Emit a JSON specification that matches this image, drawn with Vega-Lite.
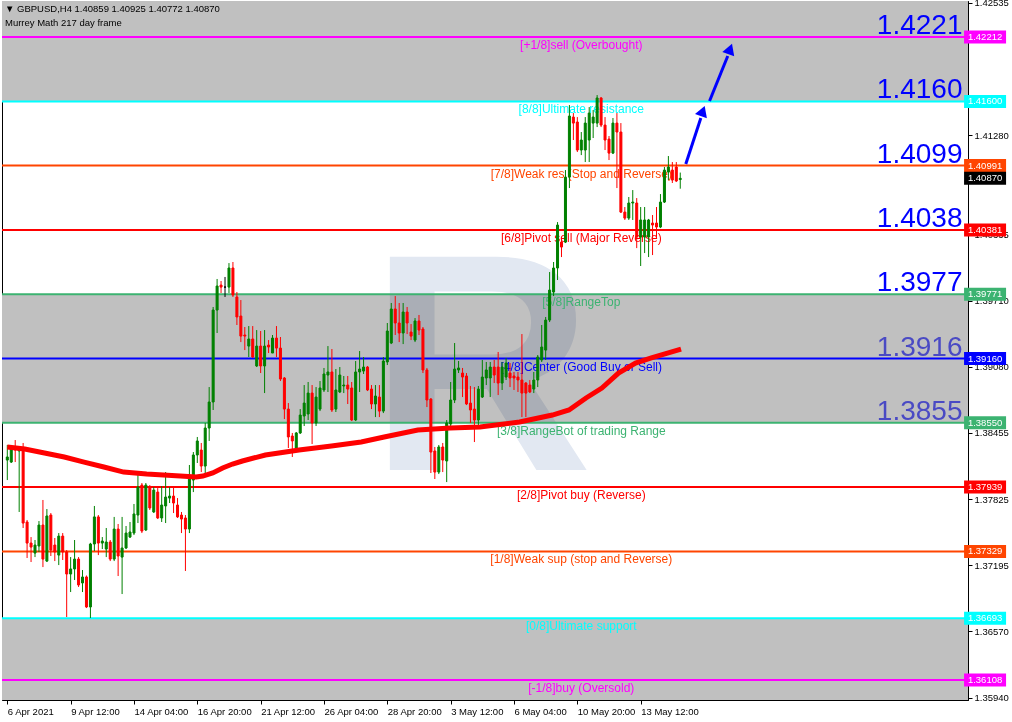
{
"$schema": "https://vega.github.io/schema/vega-lite/v6.json",
"width": 966, "height": 699,
"autosize": {"type": "none"},
"padding": {"left": 2, "top": 1, "right": 44, "bottom": 22},
"background": "white",
"config": {"view": {"stroke": "black", "strokeWidth": 1}},
"title": {"text": "\u25bc GBPUSD,H4  1.40859 1.40925 1.40772 1.40870", "subtitle": "Murrey Math 217 day frame", "anchor": "start", "frame": "group", "orient": "top", "offset": -30, "dx": 3, "font": "Liberation Sans", "fontSize": 9.5, "fontWeight": "normal", "color": "black", "subtitleFont": "Liberation Sans", "subtitleFontSize": 9.5, "subtitleColor": "black", "subtitlePadding": 5},
"datasets": {
"bands": [{"lo": 1.416, "hi": 1.427}, {"lo": 1.3855, "hi": 1.39771}, {"lo": 1.355, "hi": 1.36693}],
"levels": [
{"lv": "+1/8", "p": 1.42212, "txt": "[+1/8]sell (Overbought)"},
{"lv": "8/8", "p": 1.416, "txt": "[8/8]Ultimate resistance"},
{"lv": "7/8", "p": 1.40991, "txt": "[7/8]Weak res (Stop and Reverse)"},
{"lv": "6/8", "p": 1.40381, "txt": "[6/8]Pivot sell (Major Reverse)"},
{"lv": "5/8", "p": 1.39771, "txt": "[5/8]RangeTop"},
{"lv": "4/8", "p": 1.3916, "txt": "[4/8]Center (Good Buy or Sell)"},
{"lv": "3/8", "p": 1.3855, "txt": "[3/8]RangeBot of trading Range"},
{"lv": "2/8", "p": 1.37939, "txt": "[2/8]Pivot buy (Reverse)"},
{"lv": "1/8", "p": 1.37329, "txt": "[1/8]Weak sup (stop and Reverse)"},
{"lv": "0/8", "p": 1.36693, "txt": "[0/8]Ultimate support"},
{"lv": "-1/8", "p": 1.36108, "txt": "[-1/8]buy (Oversold)"}
],
"tags": [
{"lv": "+1/8", "p": 1.42212}, {"lv": "8/8", "p": 1.416}, {"lv": "7/8", "p": 1.40991}, {"lv": "bid", "p": 1.4087},
{"lv": "6/8", "p": 1.40381}, {"lv": "5/8", "p": 1.39771}, {"lv": "4/8", "p": 1.3916}, {"lv": "3/8", "p": 1.3855},
{"lv": "2/8", "p": 1.37939}, {"lv": "1/8", "p": 1.37329}, {"lv": "0/8", "p": 1.36693}, {"lv": "-1/8", "p": 1.36108}
],
"ma": [
{"k": 0, "m": 1.3832}, {"k": 4.4, "m": 1.38301}, {"k": 9.4, "m": 1.38263}, {"k": 14.4, "m": 1.38225}, {"k": 19.4, "m": 1.38177},
{"k": 24.4, "m": 1.3813}, {"k": 29.4, "m": 1.38082}, {"k": 35.2, "m": 1.38063}, {"k": 43.7, "m": 1.38044}, {"k": 47.7, "m": 1.38035},
{"k": 49.4, "m": 1.38044}, {"k": 51.9, "m": 1.38073}, {"k": 54.4, "m": 1.3812}, {"k": 56.9, "m": 1.38158}, {"k": 59.4, "m": 1.38187},
{"k": 65.2, "m": 1.38244}, {"k": 73.7, "m": 1.38291}, {"k": 81.9, "m": 1.38329}, {"k": 89.4, "m": 1.38367}, {"k": 95.2, "m": 1.38415},
{"k": 103.7, "m": 1.38481}, {"k": 111.9, "m": 1.385}, {"k": 119.4, "m": 1.3851}, {"k": 129.4, "m": 1.38557}, {"k": 137.7, "m": 1.38623},
{"k": 141.9, "m": 1.38671}, {"k": 146.2, "m": 1.38785}, {"k": 150.2, "m": 1.3888}, {"k": 154.4, "m": 1.39022}, {"k": 158.7, "m": 1.39117},
{"k": 162.7, "m": 1.39165}, {"k": 170.2, "m": 1.3925}
],
"arrows": [
{"a": 1, "k": 171.4, "p": 1.41006}, {"a": 1, "k": 175.2, "p": 1.41443},
{"a": 2, "k": 177.4, "p": 1.41604}, {"a": 2, "k": 182.0, "p": 1.42032}
],
"heads": [{"k": 175.7, "p": 1.41509}, {"k": 182.6, "p": 1.42098}],
"candles": [
{"k":0,"o":1.38196,"h":1.38339,"l":1.38006,"c":1.38225},
{"k":1,"o":1.38177,"h":1.38339,"l":1.38168,"c":1.38310},
{"k":2,"o":1.38320,"h":1.38386,"l":1.38177,"c":1.38291},
{"k":3,"o":1.38282,"h":1.38320,"l":1.37703,"c":1.38310},
{"k":4,"o":1.38310,"h":1.38358,"l":1.37551,"c":1.37598},
{"k":5,"o":1.37608,"h":1.37627,"l":1.37266,"c":1.37408},
{"k":6,"o":1.37408,"h":1.37465,"l":1.37228,"c":1.37370},
{"k":7,"o":1.37313,"h":1.37437,"l":1.37275,"c":1.37389},
{"k":8,"o":1.37380,"h":1.37617,"l":1.37323,"c":1.37579},
{"k":9,"o":1.37579,"h":1.37817,"l":1.37180,"c":1.37256},
{"k":10,"o":1.37237,"h":1.37731,"l":1.37228,"c":1.37665},
{"k":11,"o":1.37674,"h":1.37693,"l":1.37285,"c":1.37342},
{"k":12,"o":1.37389,"h":1.37456,"l":1.37237,"c":1.37323},
{"k":13,"o":1.37294,"h":1.37503,"l":1.37199,"c":1.37474},
{"k":14,"o":1.37474,"h":1.37503,"l":1.37247,"c":1.37323},
{"k":15,"o":1.37323,"h":1.37342,"l":1.36706,"c":1.37114},
{"k":16,"o":1.37114,"h":1.37275,"l":1.36943,"c":1.37162},
{"k":17,"o":1.37162,"h":1.37437,"l":1.37057,"c":1.37256},
{"k":18,"o":1.37256,"h":1.37275,"l":1.36991,"c":1.37010},
{"k":19,"o":1.37029,"h":1.37152,"l":1.36943,"c":1.37086},
{"k":20,"o":1.37086,"h":1.37100,"l":1.36791,"c":1.36801},
{"k":21,"o":1.36801,"h":1.37410,"l":1.36696,"c":1.37399},
{"k":22,"o":1.37399,"h":1.37760,"l":1.37332,"c":1.37656},
{"k":23,"o":1.37656,"h":1.37674,"l":1.37294,"c":1.37408},
{"k":24,"o":1.37408,"h":1.37465,"l":1.37351,"c":1.37427},
{"k":25,"o":1.37351,"h":1.37551,"l":1.37275,"c":1.37418},
{"k":26,"o":1.37418,"h":1.37437,"l":1.37237,"c":1.37256},
{"k":27,"o":1.37256,"h":1.37656,"l":1.37237,"c":1.37541},
{"k":28,"o":1.37541,"h":1.37589,"l":1.37095,"c":1.37285},
{"k":29,"o":1.37275,"h":1.37656,"l":1.36924,"c":1.37361},
{"k":30,"o":1.37361,"h":1.37570,"l":1.37351,"c":1.37503},
{"k":31,"o":1.37465,"h":1.37608,"l":1.37456,"c":1.37513},
{"k":32,"o":1.37503,"h":1.37779,"l":1.37484,"c":1.37684},
{"k":33,"o":1.37674,"h":1.38054,"l":1.37598,"c":1.37940},
{"k":34,"o":1.37959,"h":1.37978,"l":1.37503,"c":1.37522},
{"k":35,"o":1.37532,"h":1.37978,"l":1.37522,"c":1.37959},
{"k":36,"o":1.37940,"h":1.37959,"l":1.37722,"c":1.37741},
{"k":37,"o":1.37703,"h":1.37940,"l":1.37693,"c":1.37911},
{"k":38,"o":1.37892,"h":1.37930,"l":1.37636,"c":1.37646},
{"k":39,"o":1.37646,"h":1.37949,"l":1.37608,"c":1.37769},
{"k":40,"o":1.37760,"h":1.38082,"l":1.37598,"c":1.37845},
{"k":41,"o":1.37835,"h":1.37940,"l":1.37788,"c":1.37854},
{"k":42,"o":1.37854,"h":1.37940,"l":1.37693,"c":1.37788},
{"k":43,"o":1.37769,"h":1.37835,"l":1.37646,"c":1.37656},
{"k":44,"o":1.37674,"h":1.37703,"l":1.37503,"c":1.37636},
{"k":45,"o":1.37646,"h":1.37674,"l":1.37143,"c":1.37541},
{"k":46,"o":1.37541,"h":1.38149,"l":1.37503,"c":1.38016},
{"k":47,"o":1.38006,"h":1.38272,"l":1.37892,"c":1.38244},
{"k":48,"o":1.38244,"h":1.38415,"l":1.38168,"c":1.38377},
{"k":49,"o":1.38291,"h":1.38358,"l":1.38082,"c":1.38139},
{"k":50,"o":1.38139,"h":1.38548,"l":1.38073,"c":1.38500},
{"k":51,"o":1.38500,"h":1.38889,"l":1.38377,"c":1.38747},
{"k":52,"o":1.38747,"h":1.39649,"l":1.38671,"c":1.39620},
{"k":53,"o":1.39620,"h":1.39915,"l":1.39402,"c":1.39848},
{"k":54,"o":1.39857,"h":1.39896,"l":1.39782,"c":1.39838},
{"k":55,"o":1.39838,"h":1.39934,"l":1.39744,"c":1.39838},
{"k":56,"o":1.39838,"h":1.40066,"l":1.39782,"c":1.40019},
{"k":57,"o":1.40019,"h":1.40076,"l":1.39744,"c":1.39763},
{"k":58,"o":1.39744,"h":1.39791,"l":1.39478,"c":1.39554},
{"k":59,"o":1.39563,"h":1.39715,"l":1.39316,"c":1.39373},
{"k":60,"o":1.39383,"h":1.39459,"l":1.39240,"c":1.39373},
{"k":61,"o":1.39278,"h":1.39468,"l":1.39174,"c":1.39345},
{"k":62,"o":1.39345,"h":1.39468,"l":1.39165,"c":1.39174},
{"k":63,"o":1.39089,"h":1.39430,"l":1.39079,"c":1.39278},
{"k":64,"o":1.39278,"h":1.39421,"l":1.39022,"c":1.39089},
{"k":65,"o":1.39089,"h":1.39430,"l":1.38832,"c":1.39278},
{"k":66,"o":1.39288,"h":1.39335,"l":1.39212,"c":1.39269},
{"k":67,"o":1.39212,"h":1.39383,"l":1.39212,"c":1.39354},
{"k":68,"o":1.39354,"h":1.39468,"l":1.39174,"c":1.39259},
{"k":69,"o":1.39259,"h":1.39364,"l":1.38946,"c":1.38965},
{"k":70,"o":1.38975,"h":1.38984,"l":1.38585,"c":1.38680},
{"k":71,"o":1.38680,"h":1.38737,"l":1.38310,"c":1.38415},
{"k":72,"o":1.38424,"h":1.38453,"l":1.38225,"c":1.38377},
{"k":73,"o":1.38310,"h":1.38462,"l":1.38291,"c":1.38453},
{"k":74,"o":1.38453,"h":1.38680,"l":1.38443,"c":1.38623},
{"k":75,"o":1.38614,"h":1.38908,"l":1.38519,"c":1.38737},
{"k":76,"o":1.38633,"h":1.38937,"l":1.38576,"c":1.38832},
{"k":77,"o":1.38832,"h":1.38908,"l":1.38348,"c":1.38548},
{"k":78,"o":1.38548,"h":1.38889,"l":1.38519,"c":1.38794},
{"k":79,"o":1.38680,"h":1.38946,"l":1.38661,"c":1.38880},
{"k":80,"o":1.38861,"h":1.39070,"l":1.38842,"c":1.39013},
{"k":81,"o":1.39003,"h":1.39278,"l":1.38842,"c":1.39032},
{"k":82,"o":1.39032,"h":1.39250,"l":1.38652,"c":1.38671},
{"k":83,"o":1.38680,"h":1.39060,"l":1.38652,"c":1.38861},
{"k":84,"o":1.38842,"h":1.39079,"l":1.38832,"c":1.39003},
{"k":85,"o":1.38899,"h":1.38994,"l":1.38832,"c":1.38908},
{"k":86,"o":1.38908,"h":1.38994,"l":1.38728,"c":1.38870},
{"k":87,"o":1.38880,"h":1.38937,"l":1.38566,"c":1.38576},
{"k":88,"o":1.38576,"h":1.39136,"l":1.38566,"c":1.39032},
{"k":89,"o":1.39032,"h":1.39231,"l":1.38842,"c":1.39060},
{"k":90,"o":1.39041,"h":1.39174,"l":1.39013,"c":1.39079},
{"k":91,"o":1.39079,"h":1.39089,"l":1.38851,"c":1.38861},
{"k":92,"o":1.38870,"h":1.38908,"l":1.38680,"c":1.38728},
{"k":93,"o":1.38728,"h":1.38908,"l":1.38604,"c":1.38804},
{"k":94,"o":1.38794,"h":1.38908,"l":1.38604,"c":1.38661},
{"k":95,"o":1.38661,"h":1.39174,"l":1.38642,"c":1.39136},
{"k":96,"o":1.39127,"h":1.39497,"l":1.39098,"c":1.39421},
{"k":97,"o":1.39307,"h":1.39687,"l":1.39297,"c":1.39630},
{"k":98,"o":1.39630,"h":1.39753,"l":1.39383,"c":1.39497},
{"k":99,"o":1.39497,"h":1.39687,"l":1.39316,"c":1.39402},
{"k":100,"o":1.39402,"h":1.39687,"l":1.39297,"c":1.39601},
{"k":101,"o":1.39601,"h":1.39649,"l":1.39392,"c":1.39497},
{"k":102,"o":1.39411,"h":1.39487,"l":1.39335,"c":1.39373},
{"k":103,"o":1.39335,"h":1.39544,"l":1.39316,"c":1.39516},
{"k":104,"o":1.39516,"h":1.39573,"l":1.39383,"c":1.39430},
{"k":105,"o":1.39440,"h":1.39459,"l":1.39022,"c":1.39051},
{"k":106,"o":1.39051,"h":1.39070,"l":1.38699,"c":1.38766},
{"k":107,"o":1.38775,"h":1.38785,"l":1.38073,"c":1.38272},
{"k":108,"o":1.38282,"h":1.38320,"l":1.38016,"c":1.38082},
{"k":109,"o":1.38082,"h":1.38339,"l":1.38063,"c":1.38320},
{"k":110,"o":1.38320,"h":1.38358,"l":1.38082,"c":1.38196},
{"k":111,"o":1.38187,"h":1.38576,"l":1.37987,"c":1.38548},
{"k":112,"o":1.38538,"h":1.38937,"l":1.38510,"c":1.38766},
{"k":113,"o":1.38766,"h":1.39307,"l":1.38737,"c":1.39060},
{"k":114,"o":1.39051,"h":1.39136,"l":1.39022,"c":1.39070},
{"k":115,"o":1.39022,"h":1.39070,"l":1.38794,"c":1.38984},
{"k":116,"o":1.38994,"h":1.39022,"l":1.38718,"c":1.38728},
{"k":117,"o":1.38737,"h":1.38899,"l":1.38548,"c":1.38671},
{"k":118,"o":1.38680,"h":1.38889,"l":1.38367,"c":1.38576},
{"k":119,"o":1.38576,"h":1.38899,"l":1.38510,"c":1.38870},
{"k":120,"o":1.38794,"h":1.39146,"l":1.38785,"c":1.38984},
{"k":121,"o":1.38975,"h":1.39127,"l":1.38908,"c":1.39051},
{"k":122,"o":1.38975,"h":1.39127,"l":1.38794,"c":1.39079},
{"k":123,"o":1.39079,"h":1.39146,"l":1.38927,"c":1.39003},
{"k":124,"o":1.39079,"h":1.39222,"l":1.38813,"c":1.38927},
{"k":125,"o":1.38927,"h":1.39127,"l":1.38861,"c":1.39079},
{"k":126,"o":1.38984,"h":1.39165,"l":1.38956,"c":1.39117},
{"k":127,"o":1.39022,"h":1.39117,"l":1.38889,"c":1.38975},
{"k":128,"o":1.38994,"h":1.39032,"l":1.38861,"c":1.38975},
{"k":129,"o":1.38984,"h":1.39032,"l":1.38842,"c":1.38956},
{"k":130,"o":1.38956,"h":1.39392,"l":1.38604,"c":1.38832},
{"k":131,"o":1.38927,"h":1.38937,"l":1.38604,"c":1.38832},
{"k":132,"o":1.38908,"h":1.38956,"l":1.38832,"c":1.38842},
{"k":133,"o":1.38870,"h":1.39032,"l":1.38832,"c":1.38956},
{"k":134,"o":1.38956,"h":1.39193,"l":1.38889,"c":1.39174},
{"k":135,"o":1.39146,"h":1.39478,"l":1.39127,"c":1.39269},
{"k":136,"o":1.39240,"h":1.39554,"l":1.39146,"c":1.39525},
{"k":137,"o":1.39525,"h":1.39981,"l":1.39506,"c":1.39810},
{"k":138,"o":1.39791,"h":1.40076,"l":1.39753,"c":1.40019},
{"k":139,"o":1.40019,"h":1.40455,"l":1.39905,"c":1.40427},
{"k":140,"o":1.40265,"h":1.40313,"l":1.40123,"c":1.40218},
{"k":141,"o":1.40265,"h":1.40949,"l":1.40256,"c":1.40882},
{"k":142,"o":1.40882,"h":1.41566,"l":1.40778,"c":1.41462},
{"k":143,"o":1.41452,"h":1.41490,"l":1.41234,"c":1.41395},
{"k":144,"o":1.41405,"h":1.41452,"l":1.41120,"c":1.41139},
{"k":145,"o":1.41139,"h":1.41310,"l":1.41091,"c":1.41234},
{"k":146,"o":1.41139,"h":1.41452,"l":1.41025,"c":1.41395},
{"k":147,"o":1.41234,"h":1.41547,"l":1.41025,"c":1.41490},
{"k":148,"o":1.41395,"h":1.41519,"l":1.41253,"c":1.41452},
{"k":149,"o":1.41395,"h":1.41661,"l":1.41357,"c":1.41633},
{"k":150,"o":1.41633,"h":1.41642,"l":1.41357,"c":1.41376},
{"k":151,"o":1.41376,"h":1.41452,"l":1.41139,"c":1.41234},
{"k":152,"o":1.41243,"h":1.41272,"l":1.41044,"c":1.41110},
{"k":153,"o":1.41110,"h":1.41443,"l":1.41101,"c":1.41395},
{"k":154,"o":1.41395,"h":1.41490,"l":1.40778,"c":1.41310},
{"k":155,"o":1.41310,"h":1.41395,"l":1.40541,"c":1.40550},
{"k":156,"o":1.40550,"h":1.40598,"l":1.40475,"c":1.40493},
{"k":157,"o":1.40493,"h":1.40693,"l":1.40475,"c":1.40636},
{"k":158,"o":1.40636,"h":1.40759,"l":1.40475,"c":1.40645},
{"k":159,"o":1.40636,"h":1.40683,"l":1.40208,"c":1.40313},
{"k":160,"o":1.40313,"h":1.40598,"l":1.40038,"c":1.40475},
{"k":161,"o":1.40313,"h":1.40598,"l":1.40161,"c":1.40475},
{"k":162,"o":1.40313,"h":1.40485,"l":1.40123,"c":1.40475},
{"k":163,"o":1.40446,"h":1.40522,"l":1.40142,"c":1.40427},
{"k":164,"o":1.40446,"h":1.40598,"l":1.40313,"c":1.40408},
{"k":165,"o":1.40408,"h":1.40721,"l":1.40398,"c":1.40645},
{"k":166,"o":1.40645,"h":1.40978,"l":1.40636,"c":1.40949},
{"k":167,"o":1.40930,"h":1.41082,"l":1.40854,"c":1.40978},
{"k":168,"o":1.40949,"h":1.41025,"l":1.40826,"c":1.40854},
{"k":169,"o":1.40978,"h":1.41025,"l":1.40835,"c":1.40845},
{"k":170,"o":1.40859,"h":1.40925,"l":1.40772,"c":1.40870}
]
},
"layer": [
{"data": {"name": "bands"}, "mark": {"type": "rect", "color": "#C0C0C0", "clip": true},
 "encoding": {"y": {"field": "lo", "type": "quantitative", "title": null, "scale": {"domain": [1.359181, 1.425538], "nice": false, "zero": false},
   "axis": {"orient": "right", "values": [1.42535, 1.41905, 1.4128, 1.4065, 1.40335, 1.4002, 1.3971, 1.39395, 1.3908, 1.38765, 1.38455, 1.3814, 1.37825, 1.3751, 1.37195, 1.36885, 1.3657, 1.36255, 1.3594], "format": ".5f", "labelFont": "Liberation Sans", "labelFontSize": 9.5, "labelColor": "black", "tickColor": "black", "tickSize": 4, "domainColor": "black", "grid": false, "labelPadding": 2, "labelOverlap": false, "labelBound": false, "labelFlush": false}},
  "y2": {"field": "hi"}}},
{"data": {"values": [{"t": "R"}]}, "mark": {"type": "text", "font": "Liberation Sans", "fontWeight": "bold", "fontSize": 310, "align": "left", "baseline": "alphabetic", "fill": "#e2e8f2", "blend": "multiply"},
 "encoding": {"x": {"datum": 91.4, "type": "quantitative", "title": null, "scale": {"domain": [-0.075, 241.425], "nice": false, "zero": false},
   "axis": {"values": [0, 16, 32, 48, 64, 80, 96, 112, 128, 144, 160], "labelExpr": "['6 Apr 2021','9 Apr 12:00','14 Apr 04:00','16 Apr 20:00','21 Apr 12:00','26 Apr 04:00','28 Apr 20:00','3 May 12:00','6 May 04:00','10 May 20:00','13 May 12:00'][round(datum.value/16)]", "labelAlign": "left", "labelFont": "Liberation Sans", "labelFontSize": 9.5, "labelColor": "black", "tickColor": "black", "tickSize": 4, "domainColor": "black", "grid": false, "labelOverlap": false, "labelFlush": false, "labelBound": false, "labelPadding": 2}},
  "y": {"datum": 1.38101, "type": "quantitative", "title": null}, "text": {"field": "t"}}},
{"mark": {"type": "rule", "color": "#C0C0C0", "strokeWidth": 1}, "encoding": {"y": {"datum": 1.4087, "type": "quantitative", "title": null}}},
{"data": {"name": "levels"}, "mark": {"type": "rule", "strokeWidth": 2},
 "encoding": {"y": {"field": "p", "type": "quantitative", "title": null},
  "color": {"field": "lv", "type": "nominal", "legend": null, "scale": {"domain": ["+1/8", "8/8", "7/8", "6/8", "5/8", "4/8", "3/8", "2/8", "1/8", "0/8", "-1/8", "bid"], "range": ["#FF00FF", "#00FFFF", "#FF4500", "#FF0000", "#3CB371", "#0000FF", "#3CB371", "#FF0000", "#FF4500", "#00FFFF", "#FF00FF", "#000000"]}}}},
{"data": {"name": "levels"}, "mark": {"type": "text", "font": "Liberation Sans", "fontSize": 12, "align": "center", "baseline": "top", "dy": 3},
 "encoding": {"x": {"datum": 145, "type": "quantitative", "title": null}, "y": {"field": "p", "type": "quantitative", "title": null}, "text": {"field": "txt"},
  "color": {"field": "lv", "type": "nominal", "legend": null}}},
{"data": {"name": "levels"}, "transform": [{"filter": "datum.p >= 1.385"}], "mark": {"type": "text", "font": "Liberation Sans", "fontSize": 28, "align": "right", "baseline": "alphabetic", "dy": -3},
 "encoding": {"x": {"datum": 241.3, "type": "quantitative", "title": null}, "y": {"field": "p", "type": "quantitative", "title": null}, "text": {"field": "p", "type": "quantitative", "format": ".4f"},
  "fill": {"condition": {"test": "datum.p < 1.395", "value": "#4a4ac4"}, "value": "#0000FF"}}},
{"data": {"name": "candles"}, "mark": {"type": "rule", "strokeWidth": 1},
 "encoding": {"x": {"field": "k", "type": "quantitative", "title": null}, "y": {"field": "l", "type": "quantitative", "title": null}, "y2": {"field": "h"},
  "stroke": {"condition": [{"test": "datum.c < datum.o", "value": "#FF0000"}, {"test": "datum.c > datum.o", "value": "#008000"}], "value": "#000000"}}},
{"data": {"name": "candles"}, "mark": {"type": "bar", "size": 2, "strokeWidth": 1},
 "encoding": {"x": {"field": "k", "type": "quantitative", "title": null}, "y": {"field": "o", "type": "quantitative", "title": null}, "y2": {"field": "c"},
  "fill": {"condition": [{"test": "datum.c < datum.o", "value": "#FF0000"}, {"test": "datum.c > datum.o", "value": "#008000"}], "value": "#000000"},
  "stroke": {"condition": [{"test": "datum.c < datum.o", "value": "#FF0000"}, {"test": "datum.c > datum.o", "value": "#008000"}], "value": "#000000"}}},
{"data": {"name": "ma"}, "mark": {"type": "line", "color": "#FF0000", "strokeWidth": 5},
 "encoding": {"x": {"field": "k", "type": "quantitative", "title": null}, "y": {"field": "m", "type": "quantitative", "title": null}}},
{"data": {"name": "arrows"}, "mark": {"type": "line", "color": "#0000FF", "strokeWidth": 3},
 "encoding": {"x": {"field": "k", "type": "quantitative", "title": null}, "y": {"field": "p", "type": "quantitative", "title": null}, "detail": {"field": "a"}}},
{"data": {"name": "heads"}, "mark": {"type": "point", "shape": "triangle-up", "filled": true, "color": "#0000FF", "size": 160, "angle": 20, "opacity": 1},
 "encoding": {"x": {"field": "k", "type": "quantitative", "title": null}, "y": {"field": "p", "type": "quantitative", "title": null}}},
{"data": {"name": "tags"}, "mark": {"type": "rect", "width": 42, "height": 13, "clip": false},
 "encoding": {"x": {"datum": 247, "type": "quantitative", "title": null}, "y": {"field": "p", "type": "quantitative", "title": null},
  "color": {"field": "lv", "type": "nominal", "legend": null}}},
{"data": {"name": "tags"}, "mark": {"type": "text", "font": "Liberation Sans", "fontSize": 9.5, "align": "center", "baseline": "middle", "color": "white", "clip": false},
 "encoding": {"x": {"datum": 247, "type": "quantitative", "title": null}, "y": {"field": "p", "type": "quantitative", "title": null}, "text": {"field": "p", "type": "quantitative", "format": ".5f"}}}
]
}
